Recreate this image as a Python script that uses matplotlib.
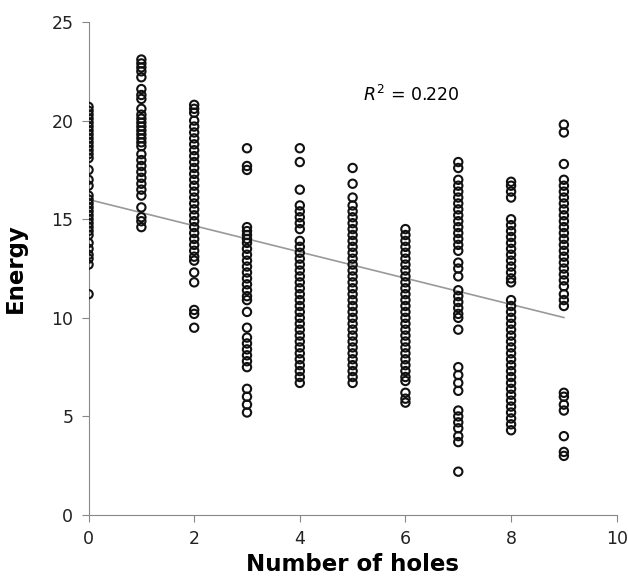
import numpy as np
import matplotlib.pyplot as plt

# Energy values for each number of holes
holes = [0, 1, 2, 3, 4, 5, 6, 7, 8, 9]
energy_0 = [20.7, 20.5, 20.3, 20.1, 19.9, 19.7, 19.5, 19.3, 19.1, 18.9, 18.7, 18.5, 18.3,
            18.1, 17.5, 17.0, 16.7, 16.2, 16.0, 15.8, 15.6, 15.4, 15.2, 15.0, 14.8, 14.6,
            14.4, 14.2, 13.8, 13.5, 13.2, 13.0, 12.7, 11.2]
energy_1 = [23.1, 22.9, 22.7, 22.5, 22.2, 21.6, 21.3, 21.1, 20.6, 20.3, 20.1, 19.9, 19.7,
            19.5, 19.3, 19.1, 18.9, 18.7, 18.3, 18.0, 17.7, 17.4, 17.1, 16.8, 16.5, 16.2,
            15.6, 15.1, 14.9, 14.6]
energy_2 = [20.8, 20.6, 20.4, 20.0, 19.7, 19.4, 19.1, 18.8, 18.5, 18.2, 17.9, 17.6, 17.3,
            17.0, 16.7, 16.4, 16.1, 15.8, 15.5, 15.2, 14.9, 14.6, 14.3, 14.0, 13.7, 13.4,
            13.1, 12.9, 12.3, 11.8, 10.4, 10.2, 9.5]
energy_3 = [18.6, 17.7, 17.5, 14.6, 14.4, 14.2, 14.0, 13.8, 13.5, 13.2, 12.9, 12.6, 12.3,
            12.0, 11.7, 11.4, 11.1, 10.9, 10.3, 9.5, 9.0, 8.7, 8.4, 8.1, 7.8, 7.5, 6.4,
            6.0, 5.6, 5.2]
energy_4 = [18.6, 17.9, 16.5, 15.7, 15.4, 15.1, 14.8, 14.5, 13.9, 13.6, 13.3, 13.0, 12.7,
            12.4, 12.1, 11.8, 11.5, 11.2, 10.9, 10.6, 10.3, 10.0, 9.7, 9.4, 9.1, 8.8, 8.5,
            8.2, 7.9, 7.6, 7.3, 7.0, 6.7]
energy_5 = [17.6, 16.8, 16.1, 15.7, 15.4, 15.1, 14.8, 14.5, 14.2, 13.9, 13.6, 13.3, 13.0,
            12.7, 12.4, 12.1, 11.8, 11.5, 11.2, 10.9, 10.6, 10.3, 10.0, 9.7, 9.4, 9.1, 8.8,
            8.5, 8.2, 7.9, 7.6, 7.3, 7.0, 6.7]
energy_6 = [14.5, 14.2, 13.9, 13.6, 13.3, 13.0, 12.7, 12.4, 12.1, 11.8, 11.5, 11.2, 10.9,
            10.6, 10.3, 10.0, 9.7, 9.4, 9.1, 8.8, 8.5, 8.2, 7.9, 7.6, 7.3, 7.0, 6.8, 6.2,
            5.9, 5.7]
energy_7 = [17.9, 17.6, 17.0, 16.7, 16.4, 16.1, 15.8, 15.5, 15.2, 14.9, 14.6, 14.3, 14.0,
            13.7, 13.4, 12.8, 12.5, 12.1, 11.4, 11.1, 10.8, 10.5, 10.2, 10.0, 9.4, 7.5, 7.1,
            6.7, 6.3, 5.3, 5.0, 4.7, 4.4, 4.0, 3.7, 2.2]
energy_8 = [16.9, 16.7, 16.4, 16.1, 15.0, 14.7, 14.4, 14.1, 13.8, 13.5, 13.2, 12.9, 12.6,
            12.3, 12.0, 11.8, 10.9, 10.6, 10.3, 10.0, 9.7, 9.4, 9.1, 8.8, 8.5, 8.2, 7.9,
            7.6, 7.3, 7.0, 6.7, 6.4, 6.1, 5.8, 5.5, 5.2, 4.9, 4.6, 4.3]
energy_9 = [19.8, 19.4, 17.8, 17.0, 16.7, 16.4, 16.1, 15.8, 15.5, 15.2, 14.9, 14.6, 14.3,
            14.0, 13.7, 13.4, 13.1, 12.8, 12.5, 12.2, 11.9, 11.6, 11.2, 10.9, 10.6, 6.2,
            6.0, 5.6, 5.3, 4.0, 3.2, 3.0]

# Linear trend line
trend_intercept = 16.0
trend_slope = -0.665
r_squared = 0.220

columns = [energy_0, energy_1, energy_2, energy_3, energy_4,
           energy_5, energy_6, energy_7, energy_8, energy_9]

plt.rcParams['mathtext.fontset'] = 'dejavusans'

fig = plt.figure(figsize=(6.28, 5.8), dpi=100)
ax = fig.add_axes([0.141, 0.112, 0.841, 0.850])

for h, vals in zip(holes, columns):
    ax.scatter([h] * len(vals), vals, s=36, facecolors='none',
               edgecolors='#111111', linewidths=1.5, zorder=3)

tx = np.array([holes[0], holes[-1]])
ax.plot(tx, trend_intercept + trend_slope * tx, color='#999999', lw=1.2, zorder=2)

ax.text(5.2, 21.3, r'$R^2$' + f' = {r_squared:.3f}', fontsize=12.5,
        va='center', ha='left')

ax.set_xlim(0, 10)
ax.set_ylim(0, 25)
ax.set_xticks([0, 2, 4, 6, 8, 10])
ax.set_yticks([0, 5, 10, 15, 20, 25])
for s in ['top', 'right']:
    ax.spines[s].set_visible(False)
for s in ['left', 'bottom']:
    ax.spines[s].set_color('#888888')
ax.tick_params(colors='#888888', labelcolor='#222222', labelsize=12.5,
               direction='out', length=5, pad=6)
ax.set_xlabel('Number of holes', fontsize=16.5, fontweight='bold')
ax.set_ylabel('Energy', fontsize=16.5, fontweight='bold')
ax.yaxis.set_label_coords(-0.116, 0.5)
ax.xaxis.set_label_coords(0.5, -0.077)

fig.savefig('out.png', dpi=100)
